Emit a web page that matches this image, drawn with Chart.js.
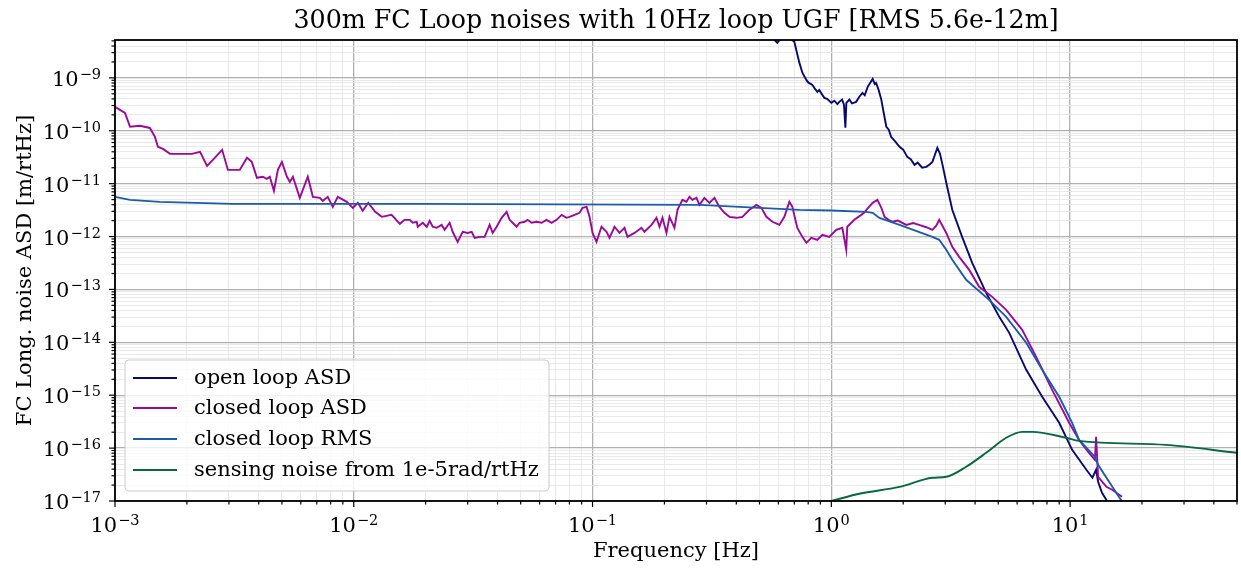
<!DOCTYPE html>
<html>
<head>
<meta charset="utf-8">
<script src="https://cdn.jsdelivr.net/npm/chart.js@4.4.1/dist/chart.umd.min.js"></script>
<style>
html,body{margin:0;padding:0;background:#fff;}
canvas{display:block;}
</style>
</head>
<body>
<canvas id="c" width="1241" height="569"></canvas>
<script>
// ---------------- data (frequency [Hz], amplitude [m/rtHz]) ----------------
const chartTitle = '300m FC Loop noises with 10Hz loop UGF [RMS 5.6e-12m]';
const xLabel = 'Frequency [Hz]';
const yLabel = 'FC Long. noise ASD [m/rtHz]';
const seriesLabels = ['open loop ASD', 'closed loop ASD', 'closed loop RMS', 'sensing noise from 1e-5rad/rtHz'];
const seriesColors = ['#0a0a6e', '#990a99', '#1a5ca8', '#05683f'];
const xTickExps = [-3, -2, -1, 0, 1];
const yTickExps = [-17, -16, -15, -14, -13, -12, -11, -10, -9];
const xRange = [1e-3, 50];
const yRange = [1e-17, 5.2e-9];

const openLoopASD = [
  [0.551,6.5e-9],[0.594,4.6e-9],[0.635,6.8e-9],[0.700,4.8e-9],[0.735,1.92e-9],[0.757,1.24e-9],
  [0.786,9.16e-10],[0.80,8.2e-10],[0.833,7.38e-10],[0.85,6.4e-10],[0.874,5.44e-10],[0.89,5.9e-10],
  [0.917,4.77e-10],[0.935,4.19e-10],[0.96,4.0e-10],[1.00,3.37e-10],[1.03,3.7e-10],[1.06,3.2e-10],
  [1.08,3.52e-10],[1.11,3.9e-10],[1.13,3.09e-10],[1.145,1.14e-10],[1.156,3.37e-10],[1.19,3.9e-10],
  [1.22,3.3e-10],[1.27,3.52e-10],[1.31,4.4e-10],[1.35,5.2e-10],[1.38,4.7e-10],[1.42,6.76e-10],
  [1.46,8.3e-10],[1.49,9.57e-10],[1.52,7.6e-10],[1.54,8.04e-10],[1.58,5.8e-10],[1.62,3.84e-10],
  [1.66,2.1e-10],[1.70,1.19e-10],[1.74,1.05e-10],[1.78,7.67e-11],[1.85,6.3e-11],[1.93,4.97e-11],
  [2.00,4.4e-11],[2.08,3.21e-11],[2.15,2.9e-11],[2.23,2.27e-11],[2.30,2.5e-11],[2.40,2.0e-11],
  [2.50,2.08e-11],[2.58,2.3e-11],[2.65,2.58e-11],[2.72,3.6e-11],[2.78,4.75e-11],[2.85,3.7e-11],
  [2.91,2.47e-11],[3.03,1.04e-11],[3.21,3.20e-12],[3.53,9.87e-13],[3.89,3.18e-13],[4.45,8.63e-14],
  [5.05,3.03e-14],[5.56,1.51e-14],[6.55,3.02e-15],[7.64,9.33e-16],[9.00,3.01e-16],[10.2,9.29e-17],
  [11.7,3.89e-17],[12.4,2.75e-17],[12.85,3.89e-17],[13.1,2.31e-17],[13.6,1.43e-17],[14.2,1.05e-17],
  [14.6,8e-18]
];

const closedLoopASD = [
  [0.001,2.83e-10],[0.001101,2.18e-10],[0.001156,1.19e-10],[0.001273,1.24e-10],[0.00140,1.13e-10],
  [0.00147,7.67e-11],[0.001513,4.97e-11],[0.001588,4.55e-11],[0.00170,3.66e-11],[0.00210,3.66e-11],
  [0.00227,3.99e-11],[0.00243,2.17e-11],[0.00257,2.82e-11],[0.00281,4.36e-11],[0.00297,1.82e-11],
  [0.00333,1.82e-11],[0.00357,3.08e-11],[0.00374,2.58e-11],[0.00393,1.29e-11],[0.00416,1.35e-11],
  [0.00432,1.23e-11],[0.00445,1.35e-11],[0.00463,7.31e-12],[0.00481,1.82e-11],[0.00500,2.58e-11],
  [0.00525,1.35e-11],[0.00540,1.08e-11],[0.00556,1.35e-11],[0.00594,5.40e-12],[0.00642,1.35e-11],
  [0.00674,5.63e-12],[0.00721,5.40e-12],[0.00741,4.73e-12],[0.00778,5.63e-12],[0.00817,3.64e-12],
  [0.00857,5.63e-12],[0.00935,4.53e-12],[0.00991,3.49e-12],[0.0104,4.34e-12],[0.0109,3.06e-12],
  [0.0115,4.34e-12],[0.0123,2.93e-12],[0.0131,2.36e-12],[0.0144,2.57e-12],[0.0156,1.74e-12],
  [0.0163,2.07e-12],
  [0.01715,2.07e-12],[0.01766,1.82e-12],[0.01835,1.90e-12],[0.01853,1.53e-12],[0.01945,1.82e-12],
  [0.02021,1.53e-12],[0.02080,1.98e-12],[0.02141,1.53e-12],[0.02225,1.46e-12],[0.02334,1.66e-12],
  [0.02403,1.34e-12],[0.02521,1.82e-12],[0.02595,1.23e-12],[0.02723,7.94e-13],[0.02858,1.23e-12],
  [0.02999,1.17e-12],[0.03117,1.23e-12],[0.03208,9.45e-13],[0.03367,9.87e-13],[0.03532,9.87e-13],
  [0.03707,1.66e-12],[0.03816,1.17e-12],[0.03966,1.53e-12],[0.04161,2.26e-12],[0.04367,2.93e-12],
  [0.04495,2.07e-12],[0.04627,1.82e-12],[0.04808,1.53e-12],[0.04949,1.82e-12],[0.05193,1.90e-12],
  [0.05346,2.07e-12],[0.05555,1.82e-12],[0.05830,1.90e-12],[0.06118,1.82e-12],[0.06420,2.07e-12],
  [0.06738,1.82e-12],[0.07070,2.07e-12],[0.07419,2.57e-12],[0.07785,2.26e-12],[0.08013,2.36e-12],
  [0.08409,2.57e-12],[0.08824,2.81e-12],[0.09083,3.49e-12],[0.09439,3.64e-12],[0.09714,2.36e-12],
  [0.1000,1.17e-12],[0.1039,7.94e-13],[0.1090,1.53e-12],[0.1144,1.23e-12],[0.1178,9.45e-13],
  [0.1236,1.53e-12],[0.1297,1.17e-12],[0.1361,1.46e-12],[0.1401,9.87e-13],[0.1499,1.17e-12],
  [0.1603,1.46e-12],[0.1650,1.23e-12],[0.1766,1.66e-12],[0.1853,2.26e-12],[0.1907,1.53e-12],
  [0.1963,2.26e-12],[0.2040,1.17e-12],[0.2100,2.36e-12],[0.2203,1.46e-12],[0.2268,3.20e-12],
  [0.2380,4.94e-12],[0.2473,4.53e-12],[0.2546,5.63e-12],[0.2620,4.94e-12],[0.2723,5.39e-12],
  [0.2803,3.97e-12],[0.2941,5.39e-12],[0.3087,4.34e-12],[0.3240,5.39e-12],[0.3400,3.64e-12],
  [0.3567,2.81e-12],[0.3743,2.36e-12],[0.4004,2.26e-12],[0.4243,2.36e-12],[0.4539,3.20e-12],
  [0.4856,3.97e-12],[0.5095,3.49e-12],[0.5346,2.36e-12],[0.5664,1.90e-12],[0.6059,1.66e-12],
  [0.6358,2.36e-12],[0.6673,4.53e-12],[0.6867,3.64e-12],[0.7205,1.46e-12],[0.7563,9.87e-13],
  [0.7860,7.60e-13],[0.8246,9.45e-13],[0.8739,8.66e-13],[0.9170,1.08e-12],[0.9808,9.87e-13],
  [1.049,1.34e-12],[1.112,1.46e-12],[1.155,5.61e-13],[1.166,1.53e-12],[1.248,2.07e-12],
  [1.335,2.57e-12],[1.37,2.81e-12],[1.42,3.4e-12],[1.49,4.34e-12],[1.56,4.94e-12],[1.62,3.5e-12],
  [1.67,2.36e-12],[1.73,2.1e-12],[1.80,1.90e-12],[1.90,2.0e-12],[2.06,1.66e-12],[2.20,1.8e-12],
  [2.33,1.66e-12],[2.50,1.5e-12],[2.65,1.34e-12],[2.75,1.6e-12],[2.83,2.07e-12],
  [3.03,1.17e-12],[3.21,6.38e-13],[3.43,4.13e-13],[3.78,2.34e-13],[4.16,1.12e-13],
  [4.72,7.24e-14],[5.40,4.11e-14],[6.30,1.72e-14],[7.21,5.32e-15],[8.41,1.26e-15],
  [9.91,3.01e-16],[10.9,1.43e-16],[12.0,8.15e-17],[12.7,6.01e-17],[12.85,1.64e-16],
  [13.1,2.87e-17],[14.2,1.86e-17],[15.0,1.63e-17],[16.5,1.20e-17]
];

const closedLoopRMS = [
  [0.001,5.63e-12],[0.001156,4.94e-12],[0.00154,4.53e-12],[0.00311,4.15e-12],[0.0189,4.15e-12],
  [0.281,3.97e-12],[0.735,3.20e-12],[1.0,3.1e-12],[1.40,2.93e-12],[1.49,2.81e-12],[1.59,2.25e-12],
  [1.93,1.66e-12],[2.65,9.87e-13],[2.83,8.67e-13],[3.03,5.61e-13],[3.21,3.63e-13],[3.67,1.52e-13],
  [4.58,6.35e-14],[5.40,3.03e-14],[6.55,9.80e-15],[7.64,3.02e-15],[9.00,9.33e-16],[10.2,3.01e-16],
  [10.9,1.43e-16],[12.7,6.85e-17],[13.1,4.84e-17],[14.2,2.75e-17],[16.0,1.20e-17],[16.6,9.5e-18]
];

const sensingNoise = [
  [1.0,1.0e-17],[1.31,1.37e-17],[1.93,1.85e-17],[2.65,2.75e-17],[3.03,2.87e-17],[3.67,4.44e-17],
  [4.45,8.15e-17],[5.40,1.57e-16],[6.30,2.03e-16],[6.93,2.03e-16],[9.61,1.57e-16],[10.9,1.37e-16],
  [25.2,1.15e-16],[50,8.15e-17]
];

// ---------------- chart ----------------
const FONT = '"DejaVu Serif", "Liberation Serif", serif';
const isMajor = v => Math.abs(Math.log10(v) - Math.round(Math.log10(v))) < 1e-6;
function logTicks(exps, max) {
  const out = [];
  for (const e of exps) for (let s = 1; s <= 9; s++) {
    const v = s * Math.pow(10, e);
    if (v <= max * 1.0000001) out.push({ value: v });
  }
  return out;
}
const toXY = arr => arr.map(p => ({ x: p[0], y: p[1] }));

function drawPow(ctx, e, x, yBase, align, baseSize, supSize, supRaise) {
  const base = '10', sup = (e < 0 ? '\u2212' : '') + Math.abs(e);
  ctx.font = baseSize + 'px ' + FONT; const wb = ctx.measureText(base).width;
  ctx.font = supSize + 'px ' + FONT; const ws = ctx.measureText(sup).width;
  const total = wb + ws + 1;
  const x0 = align === 'center' ? x - total / 2 : x - total;
  ctx.textAlign = 'left'; ctx.textBaseline = 'alphabetic';
  ctx.font = baseSize + 'px ' + FONT; ctx.fillText(base, x0, yBase);
  ctx.font = supSize + 'px ' + FONT; ctx.fillText(sup, x0 + wb + 1, yBase - supRaise);
}

const decor = {
  id: 'decor',
  afterDatasetsDraw(chart) {
    const { ctx, chartArea: a, scales } = chart;
    const xs = scales.x, ys = scales.y;
    ctx.save();
    // legend
    const lx = 125, ly = 360, lw = 424, lh = 131, r = 4;
    ctx.beginPath();
    ctx.moveTo(lx + r, ly); ctx.lineTo(lx + lw - r, ly); ctx.arcTo(lx + lw, ly, lx + lw, ly + r, r);
    ctx.lineTo(lx + lw, ly + lh - r); ctx.arcTo(lx + lw, ly + lh, lx + lw - r, ly + lh, r);
    ctx.lineTo(lx + r, ly + lh); ctx.arcTo(lx, ly + lh, lx, ly + lh - r, r);
    ctx.lineTo(lx, ly + r); ctx.arcTo(lx, ly, lx + r, ly, r); ctx.closePath();
    ctx.fillStyle = 'rgba(255,255,255,0.8)'; ctx.fill();
    ctx.strokeStyle = '#cccccc'; ctx.lineWidth = 1; ctx.stroke();
    const rows = [378, 408, 439, 470];
    seriesLabels.forEach((lab, i) => {
      ctx.strokeStyle = seriesColors[i]; ctx.lineWidth = 2;
      ctx.beginPath(); ctx.moveTo(133, rows[i]); ctx.lineTo(177, rows[i]); ctx.stroke();
      ctx.fillStyle = '#000'; ctx.font = '21px ' + FONT; ctx.textAlign = 'left'; ctx.textBaseline = 'middle';
      ctx.fillText(lab, 194, rows[i] + 1);
    });
    // spines
    ctx.strokeStyle = '#000'; ctx.lineWidth = 1.8;
    ctx.strokeRect(a.left, a.top, a.right - a.left, a.bottom - a.top);
    // tick marks
    ctx.lineWidth = 1.2;
    xs.ticks.forEach(t => {
      const px = xs.getPixelForValue(t.value), len = isMajor(t.value) ? 6 : 3.5;
      ctx.beginPath(); ctx.moveTo(px, a.bottom); ctx.lineTo(px, a.bottom + len); ctx.stroke();
    });
    ys.ticks.forEach(t => {
      const py = ys.getPixelForValue(t.value), len = isMajor(t.value) ? 6 : 3.5;
      ctx.beginPath(); ctx.moveTo(a.left, py); ctx.lineTo(a.left - len, py); ctx.stroke();
    });
    // tick labels
    ctx.fillStyle = '#000';
    xTickExps.forEach(e => {
      const px = xs.getPixelForValue(Math.pow(10, e));
      drawPow(ctx, e, px, 532, 'center', 21, 14.5, 7);
    });
    yTickExps.forEach(e => {
      const py = ys.getPixelForValue(Math.pow(10, e));
      drawPow(ctx, e, 101, py + 8, 'right', 21, 14.5, 7);
    });
    // title & axis labels
    const cx = (a.left + a.right) / 2, cy = (a.top + a.bottom) / 2;
    ctx.textAlign = 'center'; ctx.textBaseline = 'alphabetic';
    ctx.font = '25.3px ' + FONT; ctx.fillText(chartTitle, cx, 28);
    ctx.font = '21px ' + FONT; ctx.fillText(xLabel, cx, 557);
    ctx.save(); ctx.translate(31, cy); ctx.rotate(-Math.PI / 2);
    ctx.fillText(yLabel, 0, 0); ctx.restore();
    ctx.restore();
  }
};

const data = [openLoopASD, closedLoopASD, closedLoopRMS, sensingNoise];
new Chart(document.getElementById('c'), {
  type: 'line',
  data: {
    datasets: data.map((d, i) => ({
      label: seriesLabels[i],
      data: toXY(d),
      borderColor: seriesColors[i],
      backgroundColor: seriesColors[i],
      borderWidth: 1.9,
      pointRadius: 0,
      tension: i === 3 ? 0.35 : 0,
      cubicInterpolationMode: i === 3 ? 'monotone' : 'default',
      order: 4 - i,
      fill: false
    }))
  },
  options: {
    responsive: false,
    animation: false,
    devicePixelRatio: 1,
    layout: { padding: { left: 115, top: 40, right: 4, bottom: 68 } },
    plugins: { legend: { display: false }, title: { display: false }, tooltip: { enabled: false } },
    scales: {
      x: {
        type: 'logarithmic', min: xRange[0], max: xRange[1],
        afterBuildTicks: s => { s.ticks = logTicks(xTickExps, xRange[1]); },
        ticks: { display: false },
        border: { display: false },
        grid: {
          drawTicks: false, tickLength: 0,
          color: c => isMajor(c.tick.value) ? '#b0b0b0' : '#e6e6e6',
          lineWidth: c => isMajor(c.tick.value) ? 1.3 : 0.9
        }
      },
      y: {
        type: 'logarithmic', min: yRange[0], max: yRange[1],
        afterBuildTicks: s => { s.ticks = logTicks(yTickExps, yRange[1]); },
        ticks: { display: false },
        border: { display: false },
        grid: {
          drawTicks: false, tickLength: 0,
          color: c => isMajor(c.tick.value) ? '#b0b0b0' : '#e6e6e6',
          lineWidth: c => isMajor(c.tick.value) ? 1.3 : 0.9
        }
      }
    }
  },
  plugins: [decor]
});
</script>
</body>
</html>
